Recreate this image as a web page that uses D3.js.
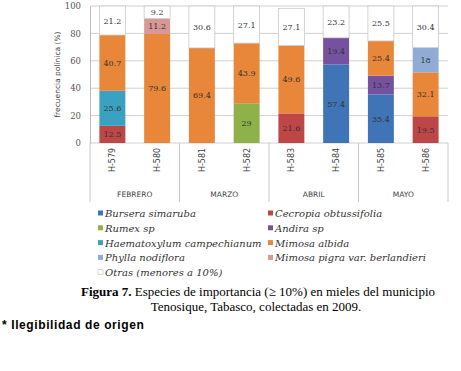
<!DOCTYPE html>
<html>
<head>
<meta charset="utf-8">
<script src="https://cdn.jsdelivr.net/npm/d3@7"></script>
<style>
  body { margin: 0; background: #fff; }
  svg { display: block; }
  .tick text { font-family: "DejaVu Serif", serif; fill: #555; }
</style>
</head>
<body>
<svg id="chart" width="461" height="371"></svg>
<script>
// Data
const samples = ['H-579', 'H-580', 'H-581', 'H-582', 'H-583', 'H-584', 'H-585', 'H-586']
const months = ['FEBRERO', 'MARZO', 'ABRIL', 'MAYO']
const species = ['Bursera simaruba', 'Cecropia obtussifolia', 'Rumex sp', 'Andira sp',
  'Haematoxylum campechianum', 'Mimosa albida', 'Phylla nodiflora',
  'Mimosa pigra var. berlandieri', 'Otras (menores a 10%)']
const colors = ['#3f74b6', '#bd4646', '#8eb14a', '#7552a0', '#3aa2c0', '#e8863a', '#90acd6', '#d99795', '#ffffff']

// one array per species, in sample order (0 = absent)
const bursera = [0, 0, 0, 0, 0, 57.4, 35.4, 0]
const cecropia = [12.5, 0, 0, 0, 21.6, 0, 0, 19.5]
const rumex = [0, 0, 0, 29, 0, 0, 0, 0]
const andira = [0, 0, 0, 0, 0, 19.4, 13.7, 0]
const haematoxylum = [25.6, 0, 0, 0, 0, 0, 0, 0]
const mimosaAlbida = [40.7, 79.6, 69.4, 43.9, 49.6, 0, 25.4, 32.1]
const phylla = [0, 0, 0, 0, 0, 0, 0, 18]
const mimosaPigra = [0, 11.2, 0, 0, 0, 0, 0, 0]
const otras = [21.2, 9.2, 30.6, 27.1, 27.1, 23.2, 25.5, 30.4]
const yTicks = [0, 20, 40, 60, 80, 100]

const series = [bursera, cecropia, rumex, andira, haematoxylum, mimosaAlbida, phylla, mimosaPigra, otras]

const svg = d3.select('#chart')
const plot = { left: 90, right: 448, top: 6, bottom: 143 }

const x = d3.scaleBand()
  .domain(samples)
  .range([plot.left, plot.right])
  .paddingInner(0.42)
  .paddingOuter(0.21)

const y = d3.scaleLinear()
  .domain([0, 100])
  .range([plot.bottom, plot.top])

// gridlines
svg.append('g')
  .selectAll('line')
  .data(yTicks)
  .join('line')
  .attr('x1', plot.left)
  .attr('x2', plot.right)
  .attr('y1', d => y(d))
  .attr('y2', d => y(d))
  .style('stroke', '#d0d0d0')
  .style('stroke-width', 1)

// y axis
const yAxis = svg.append('g')
  .attr('transform', 'translate(' + plot.left + ',0)')
  .call(d3.axisLeft(y).tickValues(yTicks).tickSize(0).tickPadding(9))
yAxis.select('.domain').style('stroke', '#bbb')
yAxis.selectAll('text').style('font-size', '8.5px')

svg.append('text')
  .attr('transform', 'translate(60,' + (y(50)) + ') rotate(-90)')
  .attr('text-anchor', 'middle')
  .style('font-family', '"DejaVu Sans", sans-serif')
  .style('font-size', '7.5px')
  .style('fill', '#444')
  .text('frecuencia polínica (%)')

// stacked bars
const stackData = samples.map((s, i) => {
  let row = { sample: s }
  species.forEach((sp, k) => { row[sp] = series[k][i] })
  return row
})
const stacked = d3.stack().keys(species)(stackData)

const layers = svg.append('g')
  .selectAll('g')
  .data(stacked)
  .join('g')
  .style('fill', (d, k) => colors[k])

layers.selectAll('rect')
  .data((d, k) => d.map(p => ({ p: p, k: k })).filter(o => o.p[1] - o.p[0] > 0))
  .join('rect')
  .attr('x', o => x(o.p.data.sample))
  .attr('width', x.bandwidth())
  .attr('y', o => y(o.p[1]))
  .attr('height', o => y(o.p[0]) - y(o.p[1]))
  .style('stroke', o => o.k === 8 ? '#c8c8c8' : 'none')
  .style('stroke-width', 0.8)

layers.selectAll('text')
  .data((d, k) => d.map(p => ({ p: p, k: k })).filter(o => o.p[1] - o.p[0] > 0))
  .join('text')
  .attr('x', o => x(o.p.data.sample) + x.bandwidth() / 2)
  .attr('y', o => (y(o.p[0]) + y(o.p[1])) / 2 + 3)
  .attr('text-anchor', 'middle')
  .style('font-family', '"DejaVu Serif", serif')
  .style('font-size', '8px')
  .style('fill', '#333')
  .text(o => d3.format('~g')(o.p[1] - o.p[0]))

// x axis: sample labels and month groups
const xLab = svg.append('g')
samples.forEach(s => {
  xLab.append('text')
    .attr('transform', 'translate(' + (x(s) + x.bandwidth() / 2 + 3) + ',160) rotate(-90)')
    .attr('text-anchor', 'middle')
    .style('font-family', '"DejaVu Sans", sans-serif')
    .style('font-size', '8px')
    .style('fill', '#444')
    .text(s)
})

const monthX = d3.scaleBand().domain(months).range([plot.left, plot.right])
const dividers = [plot.left].concat(months.map(m => monthX(m) + monthX.bandwidth()))
svg.append('g')
  .selectAll('line')
  .data(dividers)
  .join('line')
  .attr('x1', d => d)
  .attr('x2', d => d)
  .attr('y1', plot.bottom)
  .attr('y2', 202)
  .style('stroke', '#c8c8c8')

svg.append('g')
  .selectAll('text')
  .data(months)
  .join('text')
  .attr('x', m => monthX(m) + monthX.bandwidth() / 2)
  .attr('y', 197)
  .attr('text-anchor', 'middle')
  .style('font-family', '"DejaVu Sans", sans-serif')
  .style('font-size', '7.5px')
  .style('fill', '#444')
  .text(m => m)

// legend, two columns
const legend = svg.append('g')
species.forEach((sp, k) => {
  let col = k % 2, row = Math.floor(k / 2)
  let lx = col === 0 ? 98 : 268
  let ly = 214 + row * 14.8
  legend.append('rect')
    .attr('x', lx)
    .attr('y', ly - 3.5)
    .attr('width', 5)
    .attr('height', 5)
    .style('fill', colors[k])
    .style('stroke', k === 8 ? '#bbb' : 'none')
    .style('stroke-width', 0.6)
  legend.append('text')
    .attr('x', lx + 7)
    .attr('y', ly + 3)
    .style('font-family', '"DejaVu Serif", serif')
    .style('font-style', 'italic')
    .style('font-size', '10px')
    .style('fill', '#333')
    .text(sp)
})

// caption
const cap = svg.append('text')
  .attr('x', 258)
  .attr('y', 296)
  .attr('text-anchor', 'middle')
  .style('font-family', '"Liberation Serif", serif')
  .style('font-size', '13px')
  .style('fill', '#000')
cap.append('tspan').style('font-weight', 'bold').text('Figura 7.')
cap.append('tspan').text(' Especies de importancia (≥ 10%) en mieles del municipio')

svg.append('text')
  .attr('x', 256)
  .attr('y', 311)
  .attr('text-anchor', 'middle')
  .style('font-family', '"Liberation Serif", serif')
  .style('font-size', '13px')
  .style('fill', '#000')
  .text('Tenosique, Tabasco, colectadas en 2009.')

svg.append('text')
  .attr('x', 2)
  .attr('y', 329)
  .style('font-family', '"Liberation Sans", sans-serif')
  .style('font-weight', 'bold')
  .style('font-size', '12px')
  .style('letter-spacing', '0.6px')
  .style('fill', '#000')
  .text('* Ilegibilidad de origen')
</script>
</body>
</html>
